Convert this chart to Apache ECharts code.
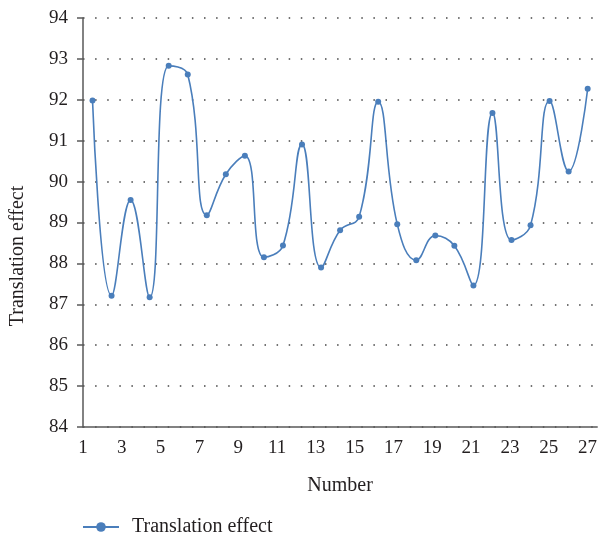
<!DOCTYPE html>
<html>
<head>
<meta charset="utf-8">
<script src="https://cdn.jsdelivr.net/npm/echarts@6/dist/echarts.min.js"></script>
<style>
  html, body { margin: 0; padding: 0; background: #fff; }
  #chart { width: 600px; height: 540px; }
</style>
</head>
<body>
<div id="chart"></div>
<script>
// sample numbers 1..27
const numbers = ['1', '2', '3', '4', '5', '6', '7', '8', '9', '10', '11', '12', '13', '14',
  '15', '16', '17', '18', '19', '20', '21', '22', '23', '24', '25', '26', '27'];
// translation effect per sample
const effect = [91.98, 87.21, 89.55, 87.17, 92.83, 92.62, 89.18, 90.18, 90.63, 88.15,
  88.44, 90.91, 87.90, 88.81, 89.14, 91.95, 88.96, 88.08, 88.68, 88.43,
  87.46, 91.68, 88.57, 88.93, 91.97, 90.25, 92.27];

const fontFamily = '"Liberation Serif", "DejaVu Serif", serif';
const textColor = '#231f20';
const lineColor = '#4a7ebb';

const myChart = echarts.init(document.getElementById('chart'));

const option = {
  animation: false,
  textStyle: { fontFamily: fontFamily, color: textColor },
  grid: {
    left: 83,
    right: 2,
    top: 18,
    bottom: 113,
    containLabel: false
  },
  legend: {
    data: ['Translation effect'],
    left: 77,
    top: 512,
    itemWidth: 36,
    itemHeight: 12,
    textStyle: {
      fontFamily: fontFamily,
      fontSize: 20,
      color: textColor,
      padding: [0, 0, 0, 8]
    }
  },
  xAxis: [
    {
      // visible axis with the odd labels
      type: 'value',
      min: 1,
      max: 27.5,
      interval: 2,
      name: 'Number',
      nameLocation: 'middle',
      nameGap: 49,
      nameTextStyle: { fontSize: 20, color: textColor, fontFamily: fontFamily },
      axisLine: { show: true, lineStyle: { color: '#595959', width: 1.5 } },
      axisTick: { show: false },
      splitLine: { show: false },
      axisLabel: {
        color: textColor,
        fontSize: 19,
        margin: 12,
        showMaxLabel: false,
        fontFamily: fontFamily
      }
    },
    {
      // hidden axis carrying the points
      type: 'category',
      data: numbers,
      boundaryGap: true,
      show: false
    }
  ],
  yAxis: {
    type: 'value',
    min: 84,
    max: 94,
    interval: 1,
    axisLine: { show: true, lineStyle: { color: '#595959', width: 1.5 } },
    axisTick: { show: true, length: 6, lineStyle: { color: '#595959', width: 1.5 } },
    axisLabel: {
      color: textColor,
      fontSize: 19,
      margin: 15,
      fontFamily: fontFamily
    },
    splitLine: {
      show: true,
      lineStyle: {
        color: '#444',
        width: 1.5,
        type: [1.5, 10.6]
      }
    }
  },
  graphic: [
    {
      type: 'text',
      x: 18,
      y: 256,
      rotation: Math.PI / 2,
      style: {
        text: 'Translation effect',
        font: '20px ' + fontFamily,
        fill: textColor,
        align: 'center',
        verticalAlign: 'middle'
      }
    }
  ],
  series: [
    {
      name: 'Translation effect',
      type: 'line',
      xAxisIndex: 1,
      data: effect,
      smooth: 0.45,
      clip: false,
      symbol: 'circle',
      symbolSize: 6,
      lineStyle: { color: lineColor, width: 1.6 },
      itemStyle: { color: lineColor }
    }
  ]
};

myChart.setOption(option);
</script>
</body>
</html>
